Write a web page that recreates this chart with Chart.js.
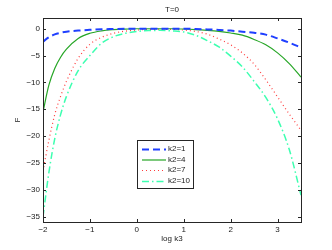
<!DOCTYPE html>
<html>
<head>
<meta charset="utf-8">
<script src="https://cdn.jsdelivr.net/npm/chart.js@4.4.0/dist/chart.umd.min.js"></script>
<style>
  html, body { margin: 0; padding: 0; background: #fff; }
  #wrap { width: 332px; height: 250px; }
</style>
</head>
<body>
<div id="wrap"><canvas id="myChart"></canvas></div>
<script>
// log k3 values
var logK3 = [-2, -1.875, -1.75, -1.625, -1.5, -1.25, -1, -0.75, -0.5, -0.25, 0, 0.25, 0.5, 0.75, 1, 1.25, 1.5, 1.75, 2, 2.25, 2.5, 2.75, 3, 3.25, 3.5];
var seriesNames = ['k2=1', 'k2=4', 'k2=7', 'k2=10'];
var fK2_1 = [-2.4, -1.6, -1.05, -0.75, -0.55, -0.35, -0.2, -0.1, -0.05, 0, 0, 0, 0, 0, 0, -0.05, -0.12, -0.22, -0.35, -0.55, -0.75, -1.1, -1.8, -2.6, -3.5];
var fK2_4 = [-15.5, -10.5, -7.4, -5.3, -3.8, -1.8, -0.85, -0.4, -0.18, -0.06, 0, 0, 0, 0, -0.05, -0.15, -0.3, -0.5, -0.8, -1.2, -2.0, -3.0, -4.5, -6.5, -9.0];
var fK2_7 = [-26.5, -20.8, -16, -12.6, -9.8, -5.5, -2.9, -1.6, -0.85, -0.45, -0.25, -0.12, -0.1, -0.12, -0.25, -0.5, -1.0, -1.9, -3.0, -4.5, -6.6, -9.5, -12.7, -15.9, -18.9];
var fK2_10 = [-35, -26.8, -20.5, -16, -12.6, -7.8, -5.0, -2.7, -1.5, -0.85, -0.5, -0.35, -0.3, -0.4, -0.6, -1.2, -2.2, -3.4, -5.1, -7.1, -9.8, -12.8, -16.8, -22.5, -31];
var xTicks = [-2, -1, 0, 1, 2, 3];
var yTicks = [-35, -30, -25, -20, -15, -10, -5, 0];

var FONT = 'Liberation Sans, Arial, Helvetica, sans-serif';

function pts(ys) {
  return logK3.map(function(x, i) { return { x: x, y: ys[i] }; });
}
function minus(v) { return String(v).replace('-', '\u2212'); }

var styles = [
  { color: '#1f3fff', dash: [7, 4], width: 2 },
  { color: '#26a626', dash: [], width: 1.2 },
  { color: '#ff3b3b', dash: [1, 3], width: 1.2 },
  { color: '#3dffb0', dash: [7, 3, 1.5, 3], width: 1.5 }
];
var allSeries = [fK2_1, fK2_4, fK2_7, fK2_10];

var datasets = allSeries.map(function(s, i) {
  return {
    label: seriesNames[i],
    data: pts(s),
    borderColor: styles[i].color,
    borderDash: styles[i].dash,
    borderWidth: styles[i].width,
    pointRadius: 0,
    fill: false,
    cubicInterpolationMode: 'monotone'
  };
});

// box, inward ticks, title and legend like the original figure
var framePlugin = {
  id: 'frame',
  afterDraw: function(chart) {
    var ctx = chart.ctx, a = chart.chartArea;
    var xs = chart.scales.x, ys = chart.scales.y;
    ctx.save();
    ctx.strokeStyle = '#262626';
    ctx.lineWidth = 1;
    ctx.setLineDash([]);
    ctx.strokeRect(Math.round(a.left) + 0.5, Math.round(a.top) + 0.5,
      Math.round(a.right - a.left), Math.round(a.bottom - a.top));
    ctx.beginPath();
    xTicks.forEach(function(t) {
      var px = Math.round(xs.getPixelForValue(t)) + 0.5;
      ctx.moveTo(px, a.bottom); ctx.lineTo(px, a.bottom - 3);
      ctx.moveTo(px, a.top); ctx.lineTo(px, a.top + 3);
    });
    yTicks.forEach(function(t) {
      var py = Math.round(ys.getPixelForValue(t)) + 0.5;
      ctx.moveTo(a.left, py); ctx.lineTo(a.left + 3, py);
      ctx.moveTo(a.right, py); ctx.lineTo(a.right - 3, py);
    });
    ctx.stroke();

    // title
    ctx.fillStyle = '#222';
    ctx.font = '8px ' + FONT;
    ctx.textAlign = 'center';
    ctx.textBaseline = 'middle';
    ctx.fillText('T=0', (a.left + a.right) / 2, 10);

    // legend
    var bx = 137.5, by = 140.5, bw = 56, bh = 48;
    ctx.fillStyle = '#fff';
    ctx.fillRect(bx, by, bw, bh);
    ctx.strokeStyle = '#262626';
    ctx.strokeRect(bx, by, bw, bh);
    var rowY = [149, 159.5, 170, 181];
    chart.data.datasets.forEach(function(ds, i) {
      var y = rowY[i] + 0.5;
      ctx.beginPath();
      ctx.strokeStyle = ds.borderColor;
      ctx.lineWidth = ds.borderWidth;
      ctx.setLineDash(ds.borderDash);
      ctx.moveTo(142, y); ctx.lineTo(166, y);
      ctx.stroke();
      ctx.setLineDash([]);
      ctx.fillStyle = '#222';
      ctx.textAlign = 'left';
      ctx.fillText(ds.label, 168, rowY[i]);
    });
    ctx.restore();
  }
};

new Chart(document.getElementById('myChart'), {
  type: 'line',
  data: { datasets: datasets },
  options: {
    responsive: true,
    maintainAspectRatio: false,
    animation: false,
    layout: { padding: { top: 18, right: 31, left: 0, bottom: 0 } },
    plugins: { legend: { display: false }, tooltip: { enabled: false } },
    scales: {
      x: {
        type: 'linear',
        min: -2, max: 3.5,
        afterBuildTicks: function(s) { s.ticks = xTicks.map(function(v) { return { value: v }; }); },
        afterFit: function(s) { s.height = 28; },
        grid: { display: false, drawTicks: false },
        border: { display: false },
        ticks: { padding: 3, color: '#222', font: { family: FONT, size: 8 }, maxRotation: 0,
          callback: function(v) { return minus(v); } },
        title: { display: true, text: 'log k3', color: '#222', font: { family: FONT, size: 8 }, padding: { top: 0, bottom: 6 } }
      },
      y: {
        min: -36, max: 2,
        afterBuildTicks: function(s) { s.ticks = yTicks.map(function(v) { return { value: v }; }); },
        afterFit: function(s) { s.width = 43; },
        grid: { display: false, drawTicks: false },
        border: { display: false },
        ticks: { padding: 3, color: '#222', font: { family: FONT, size: 8 },
          callback: function(v) { return minus(v); } },
        title: { display: true, text: 'F', color: '#222', font: { family: FONT, size: 8 }, padding: { top: 13, bottom: 0 } }
      }
    }
  },
  plugins: [framePlugin]
});
</script>
</body>
</html>
